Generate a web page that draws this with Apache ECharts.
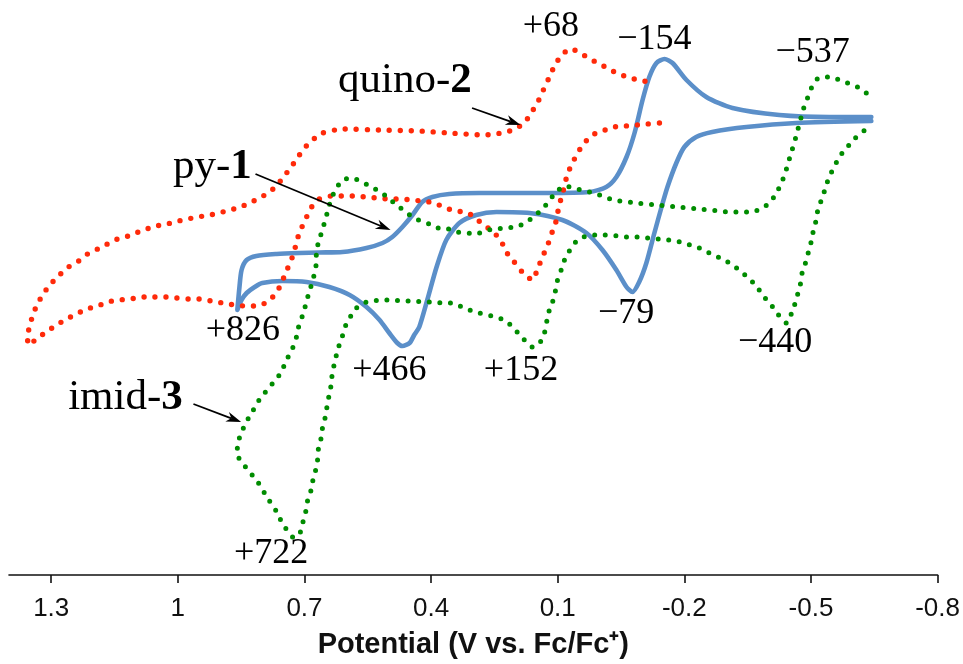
<!DOCTYPE html>
<html><head><meta charset="utf-8">
<script src="https://cdn.jsdelivr.net/npm/echarts@6/dist/echarts.min.js"></script>
<style>html,body{margin:0;padding:0;background:#fff}#c{width:963px;height:664px}</style>
</head><body><div id="c"></div>
<script>
// x-axis ticks (V vs. Fc/Fc+)
const tickValues = [1.3, 1, 0.7, 0.4, 0.1, -0.2, -0.5, -0.8];

// py-1 (blue, solid): [potential V, current a.u.]
const py1 = [
 [-0.643,45.8],[-0.543,45.8],[-0.425,46.0],[-0.314,46.7],[-0.252,47.8],[-0.205,49.5],[-0.172,51.2],[-0.153,51.6],
 [-0.134,51.2],[-0.117,49.8],[-0.101,47.5],[-0.082,44.2],[-0.063,41.8],[-0.039,39.8],[-0.015,38.8],[0.025,38.3],
 [0.127,38.2],[0.286,38.2],[0.357,38.1],[0.397,37.8],[0.421,37.3],[0.444,36.0],[0.468,34.8],[0.492,33.8],
 [0.515,33.2],[0.553,32.7],[0.610,32.3],[0.665,32.25],[0.712,32.2],[0.766,32.1],[0.814,31.9],[0.837,31.5],
 [0.849,30.5],[0.854,28.8],[0.859,26.5],
 [0.849,27.5],[0.837,28.2],[0.818,28.8],[0.800,29.2],[0.752,29.4],[0.695,29.3],[0.641,28.8],[0.593,28.0],
 [0.553,26.8],[0.522,25.5],[0.499,24.2],[0.480,23.2],[0.468,22.9],[0.451,23.2],[0.440,24.0],[0.428,24.8],
 [0.409,27.5],[0.387,30.8],[0.364,33.5],[0.333,35.2],[0.293,36.0],[0.245,36.3],[0.167,36.2],[0.089,35.5],
 [0.032,34.2],[-0.006,32.5],[-0.039,30.5],[-0.063,28.8],[-0.077,28.3],[-0.093,29.3],[-0.110,31.2],[-0.129,34.2],
 [-0.146,36.8],[-0.160,38.8],[-0.181,41.2],[-0.200,42.8],[-0.228,43.8],[-0.266,44.3],[-0.347,44.8],[-0.465,45.2],
 [-0.643,45.4]
];

// quino-2 (red, dotted)
const quino2 = [
 [-0.141,45.2],[-0.112,45.1],[-0.086,45.0],[-0.060,44.9],[-0.032,44.8],[-0.006,44.4],[0.018,44.0],[0.037,43.2],
 [0.053,42.2],[0.065,41.2],[0.077,40.1],[0.084,38.9],[0.091,37.8],[0.098,36.7],[0.103,35.5],[0.113,34.3],
 [0.122,33.2],[0.134,32.0],[0.146,30.8],[0.160,29.5],[0.184,30.3],[0.203,31.3],[0.222,32.3],[0.233,33.3],
 [0.250,34.2],[0.271,34.9],[0.293,35.6],[0.312,36.2],[0.340,36.4],[0.366,36.7],[0.392,37.2],[0.421,37.4],
 [0.447,37.5],[0.473,37.6],[0.501,37.6],[0.527,37.7],[0.556,37.8],[0.584,37.9],[0.610,37.9],[0.636,37.9],
 [0.665,37.6],[0.683,36.8],[0.695,35.8],[0.707,34.7],[0.717,33.6],[0.724,32.4],[0.733,31.3],[0.745,30.2],
 [0.755,29.1],[0.769,28.1],[0.788,27.3],[0.814,26.9],[0.840,26.9],[0.866,27.0],[0.894,27.2],[0.920,27.4],
 [0.949,27.6],[0.975,27.6],[1.003,27.7],[1.029,27.8],[1.058,27.8],[1.086,27.8],[1.112,27.6],[1.141,27.5],
 [1.167,27.3],[1.190,26.9],[1.216,26.6],[1.240,26.1],[1.264,25.6],[1.287,25.0],[1.309,24.4],[1.332,23.7],
 [1.354,23.0],[1.356,23.9],[1.349,25.2],[1.342,26.2],[1.330,27.3],[1.316,28.3],[1.299,29.2],[1.278,30.1],
 [1.259,30.8],[1.235,31.4],[1.214,32.1],[1.190,32.6],[1.167,33.1],[1.143,33.6],[1.117,33.9],[1.093,34.3],
 [1.067,34.7],[1.041,35.0],[1.015,35.2],[0.989,35.5],[0.965,35.7],[0.939,35.9],[0.913,36.1],[0.885,36.4],
 [0.859,36.7],[0.835,37.1],[0.811,37.6],[0.790,38.1],[0.766,38.9],[0.750,39.8],[0.733,40.7],[0.717,41.7],
 [0.700,42.7],[0.681,43.5],[0.657,44.2],[0.610,44.6],[0.522,44.5],[0.428,44.4],[0.357,44.2],[0.274,44.0],
 [0.248,44.1],[0.222,44.3],[0.196,44.7],[0.174,45.5],[0.160,46.4],[0.146,47.4],[0.134,48.5],[0.122,49.6],
 [0.110,50.7],[0.096,51.7],[0.077,52.5],[0.065,52.6],[0.053,52.3],[0.030,51.8],[0.006,51.2],[-0.018,50.7],
 [-0.039,50.2],[-0.065,49.8],[-0.091,49.5],[-0.117,49.3]
];

// imid-3 (green, dotted)
const imid3 = [
 [-0.631,48.2],[-0.610,48.8],[-0.586,49.2],[-0.562,49.6],[-0.539,49.8],[-0.515,49.6],[-0.501,48.7],[-0.491,47.6],
 [-0.482,46.6],[-0.475,45.5],[-0.468,44.4],[-0.461,43.3],[-0.453,42.2],[-0.446,41.2],[-0.439,40.2],[-0.430,39.2],
 [-0.418,38.2],[-0.404,37.3],[-0.385,36.7],[-0.359,36.3],[-0.335,36.3],[-0.309,36.3],[-0.283,36.4],[-0.233,36.6],
 [-0.183,36.8],[-0.134,37.0],[-0.084,37.2],[-0.034,37.5],[-0.011,37.8],[0.013,38.2],[0.037,38.4],[0.061,38.7],
 [0.084,38.9],[0.106,38.2],[0.122,37.3],[0.139,36.5],[0.158,35.8],[0.177,35.2],[0.200,34.8],[0.226,34.7],
 [0.250,34.6],[0.274,34.4],[0.293,34.1],[0.314,34.2],[0.338,34.3],[0.359,34.6],[0.383,34.7],[0.404,35.1],
 [0.425,35.4],[0.444,35.8],[0.466,36.5],[0.485,37.1],[0.503,37.8],[0.525,38.4],[0.544,38.9],[0.565,39.3],
 [0.586,39.7],[0.610,39.5],[0.624,38.7],[0.636,37.7],[0.643,36.7],[0.650,35.6],[0.657,34.6],[0.665,33.5],
 [0.672,32.3],[0.672,31.2],[0.676,30.2],[0.683,29.1],[0.691,28.0],[0.698,26.9],[0.705,25.9],[0.714,24.8],
 [0.719,23.8],[0.728,22.7],[0.740,21.7],[0.752,20.6],[0.764,19.7],[0.783,18.8],[0.800,17.9],[0.814,17.1],
 [0.826,16.1],[0.840,15.2],[0.849,14.2],[0.859,13.1],[0.859,12.0],[0.847,11.2],[0.830,10.3],[0.814,9.5],
 [0.800,8.6],[0.788,7.7],[0.771,6.7],[0.759,5.7],[0.745,4.7],[0.728,3.8],[0.712,4.0],[0.707,4.9],
 [0.698,6.0],[0.695,7.1],[0.686,8.2],[0.681,9.3],[0.674,10.4],[0.669,11.5],[0.667,12.6],[0.660,13.8],
 [0.657,14.8],[0.650,15.9],[0.646,17.0],[0.641,18.1],[0.636,19.2],[0.634,20.3],[0.627,21.4],[0.622,22.5],
 [0.612,23.6],[0.605,24.7],[0.593,25.7],[0.577,26.7],[0.560,27.2],[0.537,27.4],[0.513,27.5],[0.489,27.5],
 [0.466,27.4],[0.444,27.4],[0.418,27.3],[0.397,27.3],[0.373,27.2],[0.350,27.2],[0.326,26.8],[0.302,26.4],
 [0.278,26.1],[0.257,25.9],[0.233,25.6],[0.214,25.1],[0.196,24.3],[0.179,23.5],[0.160,22.8],[0.143,23.2],
 [0.132,24.1],[0.122,26.2],[0.113,27.2],[0.106,28.3],[0.101,29.4],[0.091,30.6],[0.082,31.7],[0.068,32.7],
 [0.053,33.5],[0.032,33.9],[0.008,34.0],[-0.018,34.0],[-0.041,33.9],[-0.065,33.8],[-0.091,33.8],[-0.115,33.7],
 [-0.141,33.6],[-0.164,33.5],[-0.191,33.3],[-0.214,33.0],[-0.236,32.7],[-0.259,32.2],[-0.285,31.7],[-0.307,31.2],
 [-0.330,30.5],[-0.349,29.8],[-0.371,28.9],[-0.385,28.0],[-0.404,27.1],[-0.423,26.0],[-0.442,25.2],[-0.461,27.0],
 [-0.468,28.0],[-0.475,29.1],[-0.479,30.2],[-0.487,31.2],[-0.494,32.3],[-0.501,33.4],[-0.506,34.5],[-0.513,35.6],
 [-0.517,36.7],[-0.527,37.7],[-0.534,38.7],[-0.543,39.8],[-0.555,40.8],[-0.567,41.8],[-0.584,42.7],[-0.603,43.6],
 [-0.619,44.2],[-0.641,44.9]
];

// peak annotations (mV) and their anchor points in data space
const peakTexts = ['+68', '\u2212154', '\u2212537', '+826', '+466', '+152', '\u221279', '\u2212440', '+722'];
const peakPos = [[0.116,54.8],[-0.129,53.5],[-0.504,52.2],[0.846,24.4],[0.499,20.4],[0.187,20.4],[-0.062,26.1],[-0.415,23.2],[0.779,2.1]];
// compound names
const namePrefix = ['py-', 'quino-', 'imid-'];
const nameNumber = ['1', '2', '3'];
const namePos = [[0.918,40.8],[0.462,49.4],[1.124,17.7]];
const arrowFrom = [[0.816,40.1],[0.303,46.7],[0.963,17.1]];
const arrowTo = [[0.496,34.5],[0.188,45.0],[0.850,15.3]];

const chart = echarts.init(document.getElementById('c'), null, {renderer: 'canvas'});
const serif = 'Liberation Serif, "Times New Roman", serif';
const sans = 'Liberation Sans, Arial, sans-serif';

function dotted(color, width, gap) {
  return {width: width, color: color, type: [0, gap], cap: 'round', join: 'round'};
}

chart.setOption({
  backgroundColor: '#ffffff',
  animation: false,
  grid: {left: 9, right: 25, top: 0, bottom: 89, containLabel: false},
  xAxis: {
    type: 'value', min: -0.8, max: 1.4, interval: 0.3, inverse: true,
    name: 'Potential (V vs. Fc/Fc\u207A)', nameLocation: 'middle', nameGap: 55,
    nameTextStyle: {fontFamily: sans, fontWeight: 'bold', fontSize: 29, color: '#111'},
    axisLine: {onZero: false, lineStyle: {color: '#111', width: 1.6}},
    axisTick: {show: true, inside: false, length: 8, lineStyle: {color: '#111', width: 1.6}, customValues: tickValues},
    axisLabel: {fontFamily: sans, fontSize: 26, color: '#111', margin: 21, customValues: tickValues,
      formatter: v => String(Math.round(v * 10) / 10)},
    splitLine: {show: false}
  },
  yAxis: {type: 'value', min: 0, max: 57.5, show: false},
  series: [
    {name: 'py-1', type: 'line', data: py1, showSymbol: false, smooth: 0.25, z: 2,
      lineStyle: {width: 4.6, color: '#5b8fc9', cap: 'round', join: 'round'}},
    {name: 'quino-2', type: 'line', data: quino2, showSymbol: false, smooth: 0.2, z: 3,
      lineStyle: dotted('#ff2a0a', 5.4, 11)},
    {name: 'imid-3', type: 'line', data: imid3, showSymbol: false, smooth: 0.2, z: 4,
      lineStyle: dotted('#008c00', 5, 10.6)}
  ]
});

function px(p) { return chart.convertToPixel({xAxisIndex: 0, yAxisIndex: 0}, p); }

const elements = [];
peakTexts.forEach((t, i) => {
  const p = px(peakPos[i]);
  elements.push({type: 'text', x: p[0], y: p[1], z: 10, style: {text: t, fontFamily: serif, fontSize: 36,
    fill: '#000', align: 'center', verticalAlign: 'middle'}});
});
namePrefix.forEach((t, i) => {
  const p = px(namePos[i]);
  elements.push({type: 'text', x: p[0], y: p[1], z: 10, style: {
    text: '{n|' + t + '}{b|' + nameNumber[i] + '}', align: 'center', verticalAlign: 'middle', fill: '#000',
    rich: {n: {fontFamily: serif, fontSize: 43, fill: '#000'}, b: {fontFamily: serif, fontSize: 43, fontWeight: 'bold', fill: '#000'}}}});
});
arrowFrom.forEach((a, i) => {
  const p0 = px(a), p1 = px(arrowTo[i]);
  const dx = p1[0] - p0[0], dy = p1[1] - p0[1], len = Math.hypot(dx, dy);
  const ux = dx / len, uy = dy / len, nx = -uy, ny = ux;
  const L = 15, W = 5;
  const bx = p1[0] - ux * L, by = p1[1] - uy * L;
  const cx = p1[0] - ux * L * 0.7, cy = p1[1] - uy * L * 0.7;
  elements.push({type: 'line', z: 10, shape: {x1: p0[0], y1: p0[1], x2: cx, y2: cy}, style: {stroke: '#000', lineWidth: 1.8}});
  elements.push({type: 'polygon', z: 10, shape: {points: [[p1[0], p1[1]], [bx + nx * W, by + ny * W], [cx, cy], [bx - nx * W, by - ny * W]]},
    style: {fill: '#000'}});
});
chart.setOption({graphic: {elements: elements}});
</script></body></html>
